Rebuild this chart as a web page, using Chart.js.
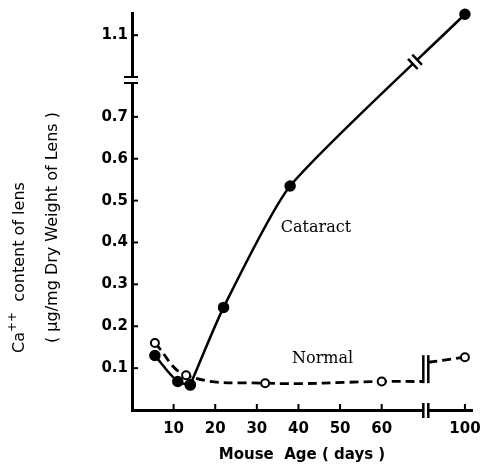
<!DOCTYPE html>
<html>
<head>
<meta charset="utf-8">
<script src="https://cdn.jsdelivr.net/npm/chart.js@4"></script>
<style>
html, body { margin: 0; padding: 0; background: #fff; }
#wrap { width: 483px; height: 466px; }
</style>
</head>
<body>
<div id="wrap"><canvas id="myChart" width="483" height="466"></canvas></div>
<script>
// values (age in days, Ca++ in ug/mg dry weight)
var cataractAge = [5.5, 11, 14, 22, 38, 100];
var cataractCa = [0.13, 0.068, 0.06, 0.245, 0.535, 1.15];
var normalAge = [5.5, 13, 32, 60, 100];
var normalCa = [0.16, 0.083, 0.064, 0.068, 0.126];
// where the dashed normal line stops / restarts at the axis break
var normalBreakCa = [0.068, 0.114];
var xTicks = [10, 20, 30, 40, 50, 60, 100];
var yTicks = [0.1, 0.2, 0.3, 0.4, 0.5, 0.6, 0.7, 1.1];

// both axes are broken: 60..100 days and 0.7..1.1 are squeezed
var xBreak = [70.0, 71.2];
var yBreak = 0.788;
var cataractBreakX = 68;

function ageToAxis(a) { return a > 65 ? a - 20 : a; }
function axisToAge(v) { return v > 65 ? v + 20 : v; }
function caToAxis(c) { return c > 0.75 ? c - 0.205 : c; }
function axisToCa(v) { return v > 0.75 ? v + 0.205 : v; }

function pts(ages, vals) {
    var out = [];
    for (var i = 0; i < ages.length; i++) {
        out.push({x: ageToAxis(ages[i]), y: caToAxis(vals[i])});
    }
    return out;
}

var cat = pts(cataractAge, cataractCa);
var nor = pts(normalAge, normalCa);
var norLeft = nor.slice(0, 4).concat([{x: xBreak[0], y: normalBreakCa[0]}]);
var norRight = [{x: xBreak[1], y: normalBreakCa[1]}, nor[4]];

var tickFont = {family: 'DejaVu Sans', size: 15, weight: 'bold'};

function noPad(s) {
    s.paddingLeft = 0; s.paddingRight = 0; s.paddingTop = 0; s.paddingBottom = 0;
}

var extras = {
    id: 'extras',
    afterDraw: function(chart) {
        var ctx = chart.ctx;
        var xs = chart.scales.x, ys = chart.scales.y;
        var area = chart.chartArea;
        ctx.save();
        ctx.strokeStyle = '#000';
        ctx.fillStyle = '#000';

        // inner tick marks
        ctx.lineWidth = 2;
        yTicks.forEach(function(t) {
            var py = ys.getPixelForValue(caToAxis(t));
            ctx.beginPath(); ctx.moveTo(area.left, py); ctx.lineTo(area.left + 6, py); ctx.stroke();
        });
        xTicks.forEach(function(t) {
            var px = xs.getPixelForValue(ageToAxis(t));
            ctx.beginPath(); ctx.moveTo(px, area.bottom); ctx.lineTo(px, area.bottom - 6); ctx.stroke();
        });

        // y axis break
        var by = ys.getPixelForValue(yBreak);
        ctx.fillStyle = '#fff';
        ctx.fillRect(area.left - 3, by - 3, 6, 6);
        ctx.fillStyle = '#000';
        ctx.lineWidth = 2;
        [by - 3, by + 3].forEach(function(y) {
            ctx.beginPath(); ctx.moveTo(area.left - 8, y); ctx.lineTo(area.left + 6, y); ctx.stroke();
        });

        // x axis break + break on the normal line
        var bx0 = xs.getPixelForValue(xBreak[0]), bx1 = xs.getPixelForValue(xBreak[1]);
        ctx.fillStyle = '#fff';
        ctx.fillRect(bx0, area.bottom - 3, bx1 - bx0, 6);
        ctx.lineWidth = 2.5;
        var nTop = ys.getPixelForValue(0.131), nBot = ys.getPixelForValue(0.064);
        [bx0, bx1].forEach(function(x) {
            ctx.beginPath(); ctx.moveTo(x, area.bottom - 7); ctx.lineTo(x, area.bottom + 8); ctx.stroke();
            ctx.beginPath(); ctx.moveTo(x, nTop); ctx.lineTo(x, nBot); ctx.stroke();
        });

        // break on the cataract curve (found on the drawn bezier)
        var meta = chart.getDatasetMeta(3);
        var els = meta.data;
        var p0 = els[els.length - 2], p1 = els[els.length - 1];
        var tx = xs.getPixelForValue(cataractBreakX);
        function bz(t, a, b, c, d) {
            var u = 1 - t;
            return u*u*u*a + 3*u*u*t*b + 3*u*t*t*c + t*t*t*d;
        }
        var lo = 0, hi = 1, t = 0.5;
        for (var k = 0; k < 40; k++) {
            t = (lo + hi) / 2;
            if (bz(t, p0.x, p0.cp2x, p1.cp1x, p1.x) < tx) lo = t; else hi = t;
        }
        var cx = bz(t, p0.x, p0.cp2x, p1.cp1x, p1.x);
        var cy = bz(t, p0.y, p0.cp2y, p1.cp1y, p1.y);
        var cx2 = bz(t + 0.01, p0.x, p0.cp2x, p1.cp1x, p1.x);
        var cy2 = bz(t + 0.01, p0.y, p0.cp2y, p1.cp1y, p1.y);
        var ang = Math.atan2(cy2 - cy, cx2 - cx);
        ctx.translate(cx, cy);
        ctx.rotate(ang);
        ctx.fillStyle = '#fff';
        ctx.fillRect(-3, -4, 6, 8);
        ctx.lineWidth = 2.5;
        [-3, 3].forEach(function(d) {
            ctx.beginPath(); ctx.moveTo(d, -7); ctx.lineTo(d, 7); ctx.stroke();
        });
        ctx.setTransform(1, 0, 0, 1, 0, 0);

        // series labels
        ctx.fillStyle = '#000';
        ctx.font = '16px "DejaVu Serif"';
        ctx.textAlign = 'center';
        ctx.textBaseline = 'middle';
        ctx.fillText('Cataract', xs.getPixelForValue(44.2), ys.getPixelForValue(0.436));
        ctx.fillText('Normal', xs.getPixelForValue(45.8), ys.getPixelForValue(0.121));

        // y axis title, two rotated lines
        ctx.textAlign = 'left';
        ctx.save();
        ctx.translate(20, 353); ctx.rotate(-Math.PI / 2);
        ctx.font = '16px "DejaVu Sans"';
        ctx.fillText('Ca', 0, 0);
        var w = ctx.measureText('Ca').width;
        ctx.font = '12px "DejaVu Sans"';
        ctx.fillText('++', w, -7);
        var w2 = ctx.measureText('++').width;
        ctx.font = '16px "DejaVu Sans"';
        ctx.fillText('  content of lens', w + w2, 0);
        ctx.restore();
        ctx.save();
        ctx.translate(53, 343); ctx.rotate(-Math.PI / 2);
        ctx.font = '16px "DejaVu Sans"';
        ctx.fillText('( \u00B5g/mg Dry Weight of Lens )', 0, 0);
        ctx.restore();

        ctx.restore();
    }
};

var ctx = document.getElementById('myChart');
var myChart = new Chart(ctx, {
    type: 'line',
    data: {
        datasets: [
            {
                label: 'Normal',
                data: norLeft,
                borderColor: '#000',
                borderWidth: 2.8,
                borderDash: [9, 5],
                tension: 0.4,
                pointRadius: [4, 4, 4, 4, 0],
                pointBorderWidth: 2,
                pointBackgroundColor: '#fff',
                pointBorderColor: '#000',
                clip: false
            },
            {
                label: 'Normal 100',
                data: norRight,
                borderColor: '#000',
                borderWidth: 2.8,
                borderDash: [9, 5],
                tension: 0,
                pointRadius: [0, 4],
                pointBorderWidth: 2,
                pointBackgroundColor: '#fff',
                pointBorderColor: '#000',
                clip: false
            },
            {
                label: 'Cataract',
                data: cat.slice(0, 3),
                borderColor: '#000',
                borderWidth: 2.5,
                tension: 0.4,
                pointRadius: 4.5,
                pointBackgroundColor: '#000',
                pointBorderColor: '#000',
                clip: false
            },
            {
                label: 'Cataract late',
                data: cat.slice(2),
                borderColor: '#000',
                borderWidth: 2.5,
                tension: 0.2,
                pointRadius: 4.5,
                pointBackgroundColor: '#000',
                pointBorderColor: '#000',
                clip: false
            }
        ]
    },
    options: {
        responsive: false,
        animation: false,
        layout: {padding: {top: 13, right: 11, left: 0, bottom: 0}},
        plugins: {legend: {display: false}, tooltip: {enabled: false}},
        scales: {
            x: {
                type: 'linear',
                min: 0,
                max: 81.7,
                afterFit: function(s) { s.height = 56; noPad(s); },
                afterBuildTicks: function(s) {
                    s.ticks = xTicks.map(function(v) { return {value: ageToAxis(v)}; });
                },
                ticks: {
                    autoSkip: false,
                    maxRotation: 0,
                    padding: 10,
                    color: '#000',
                    font: tickFont,
                    callback: function(v) { return String(Math.round(axisToAge(v))); }
                },
                grid: {drawOnChartArea: false, drawTicks: false},
                border: {color: '#000', width: 3},
                title: {
                    display: true,
                    text: 'Mouse  Age ( days )',
                    color: '#000',
                    font: {family: 'DejaVu Sans', size: 15, weight: 'bold'},
                    padding: {top: 2, bottom: 2}
                }
            },
            y: {
                type: 'linear',
                min: 0,
                max: 0.948,
                afterFit: function(s) { s.width = 132; noPad(s); },
                afterBuildTicks: function(s) {
                    s.ticks = yTicks.map(function(v) { return {value: caToAxis(v)}; });
                },
                ticks: {
                    autoSkip: false,
                    padding: 4,
                    color: '#000',
                    font: tickFont,
                    callback: function(v) { return axisToCa(v).toFixed(1); }
                },
                grid: {drawOnChartArea: false, drawTicks: false},
                border: {color: '#000', width: 3}
            }
        }
    },
    plugins: [extras]
});
</script>
</body>
</html>
